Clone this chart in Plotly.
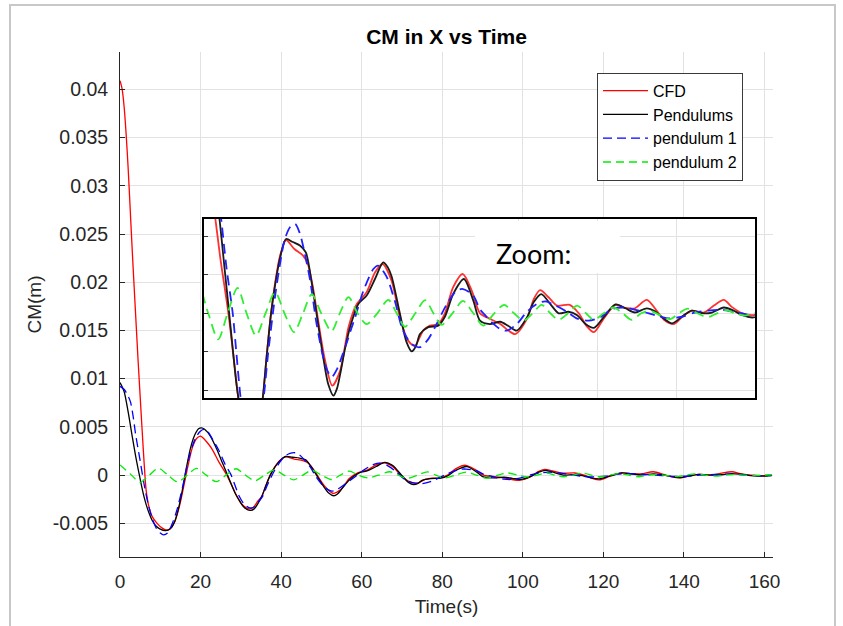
import plotly.graph_objects as go

# ---------------- data (CM in metres, time in seconds) ----------------
t_cfd = [0, 0.5, 1.0, 1.5, 2.0, 2.6, 3.0, 3.5, 4.0, 4.5, 5.0, 5.5, 6.0, 6.5, 7.2, 8.0, 9.2, 10.5, 11.7, 12.8,
         13.8, 15.0, 16.0, 17.0, 18.0, 19.0, 20.0, 21.0, 22.0, 23.0, 24.5, 26.5, 28.0, 29.0, 30.2, 31.4, 32.2, 33.2,
         34.2, 35.2, 36.2, 37.3, 38.5, 39.6, 41.1, 43.2, 45.4, 46.6, 47.9, 49.1, 50.8, 52.8, 54.8, 56.1, 56.9, 59.0,
         61.5, 63.6, 65.5, 67.8, 69.9, 72.0, 73.7, 75.8, 77.5, 79.6, 81.3, 83.4, 85.8, 88.1, 90.2, 92.7, 95.3, 99.1,
         102.1, 103.8, 105.4, 107.6, 109.7, 112.9, 115.2, 117.3, 119.0, 121.5, 124.5, 127.0, 129.4, 132.4, 134.9,
         137.0, 139.3, 141.8, 143.8, 146.8, 149.4, 151.9, 154.0, 156.6, 159.1, 161.8]
cm_cfd = [40.9e-3, 40.1e-3, 38.3e-3, 35.5e-3, 32.0e-3, 27.0e-3, 23.6e-3, 19.6e-3, 15.7e-3, 11.8e-3, 8.2e-3, 4.6e-3,
          1.2e-3, -1.6e-3, -3.3e-3, -4.3e-3, -5.0e-3, -5.5e-3, -5.7e-3, -5.4e-3,
          -4.6e-3, -2.8e-3, -0.8e-3, 1.2e-3, 2.9e-3, 3.8e-3, 4.05e-3, 3.7e-3, 3.2e-3, 2.6e-3, 1.4e-3, 0.0, -1.3e-3,
          -2.2e-3, -3.0e-3, -3.4e-3, -3.5e-3, -3.3e-3,
          -2.7e-3, -2.2e-3, -1.1e-3, 0.0, 0.9e-3, 1.5e-3, 1.90e-3, 1.67e-3, 1.50e-3, 1.28e-3, 0.68e-3, -0.10e-3,
          -1.14e-3, -1.88e-3, -1.49e-3, -0.80e-3, -0.36e-3, 0.24e-3,
          0.55e-3, 1.06e-3, 1.28e-3, 0.85e-3, -0.10e-3, -0.71e-3, -0.84e-3, -0.45e-3, -0.32e-3, -0.28e-3, 0.0,
          0.68e-3, 1.02e-3, 0.59e-3, 0.0, -0.14e-3, -0.28e-3, -0.54e-3,
          -0.14e-3, 0.37e-3, 0.60e-3, 0.41e-3, 0.20e-3, 0.22e-3, 0.0, -0.35e-3, -0.49e-3, -0.14e-3, 0.22e-3, 0.14e-3,
          0.13e-3, 0.35e-3, 0.07e-3,
          -0.19e-3, -0.28e-3, -0.05e-3, 0.07e-3, 0.02e-3, 0.20e-3, 0.35e-3, 0.16e-3, 0.0, -0.05e-3, 0.0]

t_pend = [0, 1, 2, 3, 4, 5, 6, 7, 8, 9, 10, 11.3, 12.5, 13.5, 14.5, 15.5, 16.5, 17.5, 18.5, 19.5, 20.2, 21.0,
          22.5, 24.0, 25.5, 27.0, 28.5, 29.6, 30.5, 31.5, 32.4, 33.3, 34.3, 35.2, 36.2, 37.3, 38.5, 39.6, 41.1,
          42.8, 44.6, 46.1, 47.5, 48.8, 50.5, 51.8, 53.1, 54.0, 54.8, 56.1, 57.3, 59.4, 61.5, 63.6, 65.7, 66.8,
          67.8, 69.9, 71.6, 72.9, 74.0, 75.0, 77.1, 79.6, 81.3, 83.4, 86.1, 88.5, 90.2, 92.7, 95.3, 97.4, 99.5,
          102.1, 103.8, 105.7, 108.0, 110.1, 112.6, 114.8, 116.9, 119.0, 121.5, 124.5, 127.0, 129.4, 132.4,
          134.5, 136.6, 138.8, 141.3, 143.8, 146.8, 148.9, 151.9, 154.0, 156.6, 159.1, 161.8]
cm_pend = [9.6e-3, 8.7e-3, 6.6e-3, 4.1e-3, 1.7e-3, -0.4e-3, -2.3e-3, -3.7e-3, -4.7e-3, -5.3e-3, -5.6e-3,
           -5.75e-3, -5.55e-3, -4.9e-3, -3.5e-3, -1.5e-3, 0.8e-3, 2.8e-3, 4.1e-3, 4.8e-3, 4.9e-3, 4.75e-3,
           4.0e-3, 2.7e-3, 1.2e-3, -0.3e-3, -1.8e-3, -2.6e-3, -3.2e-3, -3.55e-3, -3.65e-3, -3.5e-3, -2.9e-3,
           -2.2e-3, -1.1e-3, 0.0, 0.85e-3, 1.45e-3, 1.93e-3,
           1.85e-3, 1.76e-3, 1.58e-3, 0.85e-3, 0.0, -1.14e-3, -1.85e-3, -2.14e-3, -1.95e-3, -1.58e-3, -0.88e-3,
           -0.36e-3, 0.24e-3, 0.46e-3, 0.89e-3, 1.32e-3, 1.2e-3,
           0.96e-3, 0.0, -0.75e-3, -0.99e-3, -0.85e-3, -0.54e-3, -0.36e-3, -0.32e-3, -0.09e-3, 0.50e-3, 0.89e-3,
           0.33e-3, -0.19e-3, -0.28e-3, -0.22e-3, -0.33e-3, -0.45e-3,
           -0.10e-3, 0.29e-3, 0.50e-3, 0.24e-3, 0.0, 0.04e-3, -0.05e-3, -0.28e-3, -0.38e-3, -0.10e-3, 0.23e-3,
           0.13e-3, 0.02e-3, 0.13e-3,
           0.05e-3, -0.13e-3, -0.26e-3, -0.09e-3, 0.07e-3, 0.0, 0.02e-3, 0.15e-3, 0.09e-3, -0.05e-3, -0.11e-3,
           -0.05e-3]

t_p1 = [0, 1, 2, 2.6, 3.3, 3.85, 5.0, 6.0, 7.0, 8.0, 9.0, 10.0, 10.8, 11.8, 12.8, 14.0, 15.5, 17.0, 18.5, 19.8,
        20.8, 21.8, 23.0, 24.5, 26.0, 27.6, 28.5, 29.6, 30.8, 32.2, 33.3, 34.3, 35.4, 36.5, 38.3, 39.6, 40.8,
        42.2, 43.4, 44.5, 45.5, 47.2, 48.8, 50.5, 51.6, 52.6, 54.0, 55.3, 56.5, 57.6, 58.6, 60.7, 63.2, 64.4,
        66.5, 68.6, 70.7, 72.9, 75.0, 77.1, 79.2, 81.8, 84.3, 85.9, 88.5, 90.2, 91.5, 92.7, 95.3, 97.0, 99.5,
        102.1, 104.6, 106.7, 109.3, 112.2, 114.8, 117.7, 120.7, 123.6, 126.6, 131.1, 134.5, 137.9, 141.3, 144.6,
        148.0, 151.4, 154.8, 159.1, 161.8]
cm_p1 = [9.2e-3, 8.9e-3, 8.2e-3, 7.6e-3, 6.0e-3, 4.3e-3, 1.5e-3, -1.0e-3, -3.0e-3, -4.5e-3, -5.5e-3, -6.0e-3,
         -6.2e-3, -6.0e-3, -5.2e-3, -3.8e-3, -1.3e-3, 1.6e-3, 3.6e-3, 4.5e-3,
         4.75e-3, 4.5e-3, 3.7e-3, 2.6e-3, 1.2e-3, 0.0, -1.0e-3, -2.2e-3, -3.0e-3, -3.4e-3, -3.3e-3, -2.8e-3,
         -2.2e-3, -1.1e-3, 0.43e-3, 1.3e-3, 1.93e-3,
         2.25e-3, 2.32e-3, 2.1e-3, 1.71e-3, 0.85e-3, -0.26e-3, -1.14e-3, -1.5e-3, -1.66e-3, -1.45e-3, -1.1e-3,
         -0.75e-3, -0.4e-3, -0.1e-3, 0.59e-3, 1.15e-3, 1.24e-3,
         0.96e-3, 0.33e-3, -0.45e-3, -0.80e-3, -0.88e-3, -0.67e-3, -0.28e-3, 0.24e-3, 0.59e-3, 0.63e-3, 0.46e-3,
         0.1e-3, -0.05e-3, -0.19e-3, -0.41e-3, -0.45e-3, -0.28e-3,
         0.04e-3, 0.24e-3, 0.31e-3, 0.20e-3, 0.04e-3, -0.14e-3, -0.19e-3, -0.10e-3, 0.11e-3, 0.15e-3, 0.05e-3,
         -0.05e-3, -0.13e-3, -0.09e-3, 0.02e-3,
         0.07e-3, 0.09e-3, 0.03e-3, -0.05e-3, -0.03e-3]

t_p2 = [0, 2.5, 5.0, 7.3, 9.5, 11.9, 14.3, 16.7, 19.0, 21.4, 23.9, 26.3, 28.8, 31.1, 33.5, 35.9, 38.3, 40.7,
        43.1, 45.4, 47.6, 50.0, 52.6, 54.7, 56.9, 59.2, 61.5, 64.2, 67.0, 69.1, 71.2, 73.8, 76.3, 78.4, 80.5,
        83.2, 85.9, 88.5, 91.0, 93.8, 96.3, 98.8, 101.2, 103.5, 105.8, 108.0, 110.1, 112.5, 114.8, 117.0, 119.0,
        121.5, 124.0, 126.3, 128.6, 131.0, 133.2, 135.8, 138.4, 140.5, 142.8, 145.2, 147.8, 150.2, 152.5, 154.8,
        157.2, 159.5, 161.8]
cm_p2 = [1.05e-3, 0.15e-3, -0.75e-3, 0.0, 0.72e-3, 0.0, -0.70e-3, 0.0, 0.70e-3, 0.0, -0.68e-3, 0.0, 0.66e-3, 0.0,
         -0.58e-3, 0.0, 0.55e-3, 0.0,
         -0.49e-3, 0.0, 0.50e-3, 0.0, -0.47e-3, 0.0, 0.42e-3, 0.0, -0.28e-3, 0.0, 0.35e-3, 0.0, -0.35e-3, 0.0,
         0.34e-3, 0.0, -0.30e-3,
         0.0, 0.32e-3, 0.0, -0.32e-3, 0.0, 0.22e-3, 0.0, -0.19e-3, 0.0, 0.22e-3, 0.0, -0.17e-3, 0.0, 0.20e-3, 0.0,
         -0.17e-3,
         0.0, 0.15e-3, 0.0, -0.17e-3, 0.0, 0.06e-3, -0.05e-3, -0.15e-3, 0.0, 0.12e-3, 0.0, -0.10e-3, 0.0, 0.08e-3,
         0.0,
         -0.06e-3, 0.0, 0.04e-3]

assert len(t_cfd) == len(cm_cfd), (len(t_cfd), len(cm_cfd))
assert len(t_pend) == len(cm_pend), (len(t_pend), len(cm_pend))
assert len(t_p1) == len(cm_p1), (len(t_p1), len(cm_p1))
assert len(t_p2) == len(cm_p2), (len(t_p2), len(cm_p2))

series_names = ["CFD", "Pendulums", "pendulum 1", "pendulum 2"]
x_ticks = [0, 20, 40, 60, 80, 100, 120, 140, 160]
y_ticks = [-0.005, 0, 0.005, 0.01, 0.015, 0.02, 0.025, 0.03, 0.035, 0.04]
y_ticktext = ["-0.005", "0", "0.005", "0.01", "0.015", "0.02", "0.025", "0.03", "0.035", "0.04"]

main_xrange = [0, 162.1]
main_yrange = [-0.00849, 0.04387]
inset_xrange = [20.2, 159.8]
inset_yrange = [-0.002208, 0.002449]
inset_grid_y = [-0.002, -0.001, 0, 0.001, 0.002]
inset_grid_x = [40, 60, 80, 100, 120, 140]

# ---------------- styles ----------------
FONT = "Liberation Sans, Arial, Helvetica, sans-serif"
DARK = "#262626"
GRID = "#e2e2e2"
styles = [
    dict(color="#ff0000", dash="solid"),
    dict(color="#000000", dash="solid"),
    dict(color="#0000ff", dash="9px,5px"),
    dict(color="#00ee00", dash="8px,5px"),
]
inset_colors = ["#ff3030", "#1a1a1a", "#2020ff", "#30ee30"]

data = [(t_cfd, cm_cfd), (t_pend, cm_pend), (t_p1, cm_p1), (t_p2, cm_p2)]

fig = go.Figure()
for (t, v), name, st in zip(data, series_names, styles):
    fig.add_trace(go.Scatter(
        x=t, y=v, name=name, mode="lines",
        line=dict(color=st["color"], width=1.3, dash=st["dash"], shape="spline", smoothing=0.8),
        xaxis="x", yaxis="y"))

for (t, v), name, st, col in zip(data, series_names, styles, inset_colors):
    fig.add_trace(go.Scatter(
        x=t, y=v, name=name, mode="lines", showlegend=False,
        line=dict(color=col, width=1.8, dash=("10px,6px" if st["dash"] != "solid" else "solid"),
                  shape="spline", smoothing=0.8),
        xaxis="x2", yaxis="y2"))

W, H = 843, 626
L, R, T, B = 120, 70, 52, 69
pw, ph = W - L - R, H - T - B


def px_x(px):
    return (px - L) / pw


def px_y(py):
    return (H - B - py) / ph


fig.update_layout(
    width=W, height=H,
    margin=dict(l=L, r=R, t=T, b=B, autoexpand=False),
    paper_bgcolor="white", plot_bgcolor="white",
    font=dict(family=FONT, color=DARK),
    title=dict(text="<b>CM in X vs Time</b>", x=0.5, xref="paper", xanchor="center",
               y=1 - 37 / H, yref="container", yanchor="middle",
               font=dict(family=FONT, size=21, color="#000000")),
    showlegend=True,
    legend=dict(x=px_x(597), y=px_y(72.7), xanchor="left", yanchor="top",
                bgcolor="white", bordercolor="#3a3a3a", borderwidth=1,
                font=dict(family=FONT, size=16, color="#000000"),
                itemwidth=45, tracegroupgap=0),
    xaxis=dict(domain=[0, 1], range=main_xrange, tickvals=x_ticks, ticks="inside", ticklen=5,
               tickcolor=DARK, showline=True, linecolor=DARK, linewidth=1, showgrid=True,
               gridcolor=GRID, gridwidth=1, zeroline=False, tickfont=dict(size=19, color=DARK),
               ticklabelstandoff=7, automargin=False,
               title=dict(text="Time(s)", font=dict(size=19, color=DARK), standoff=8)),
    yaxis=dict(domain=[0, 1], range=main_yrange, tickvals=y_ticks, ticktext=y_ticktext, ticks="inside",
               ticklen=5, tickcolor=DARK, showline=True, linecolor=DARK, linewidth=1, showgrid=True,
               gridcolor=GRID, gridwidth=1, zeroline=False, tickfont=dict(size=19.5, color=DARK),
               ticklabelstandoff=7, automargin=False,
               title=dict(text="CM(m)", font=dict(size=19, color=DARK), standoff=6)),
    xaxis2=dict(domain=[px_x(203.5), px_x(755)], anchor="y2", range=inset_xrange, tickvals=inset_grid_x,
                ticks="", showticklabels=False, showgrid=True, gridcolor=GRID, gridwidth=1,
                zeroline=False, showline=True, mirror=True, linecolor="#000000", linewidth=2),
    yaxis2=dict(domain=[px_y(398.3), px_y(219)], anchor="x2", range=inset_yrange, tickvals=inset_grid_y,
                ticks="inside", ticklen=4, tickcolor="#333333", showticklabels=False, showgrid=True,
                gridcolor=GRID, gridwidth=1, zeroline=False, showline=True, mirror=True,
                linecolor="#000000", linewidth=2),
    shapes=[
        # white backdrop of the zoom inset (drawn in the inset subplot's lower layer)
        dict(type="rect", xref="x2", yref="y2", x0=inset_xrange[0], x1=inset_xrange[1],
             y0=inset_yrange[0], y1=inset_yrange[1], fillcolor="white", line=dict(width=0), layer="below"),
        # white box behind the "Zoom:" label
        dict(type="rect", xref="paper", yref="paper", x0=px_x(475), x1=px_x(620), y0=px_y(273), y1=px_y(221),
             fillcolor="white", line=dict(width=0), layer="above"),
        # light grey window frame
        dict(type="rect", xref="paper", yref="paper", x0=px_x(10), x1=px_x(835), y0=px_y(660), y1=px_y(5),
             fillcolor="rgba(0,0,0,0)", line=dict(color="#c8c8c8", width=2), layer="below"),
    ],
    annotations=[
        dict(text="Zoom:", xref="paper", yref="paper", x=px_x(494), y=px_y(253), xanchor="left",
             yanchor="middle", showarrow=False, font=dict(family="Lato, Carlito, Calibri, sans-serif",
                                                          size=27, color="#000000")),
    ],
)

fig.write_html("out.html")
